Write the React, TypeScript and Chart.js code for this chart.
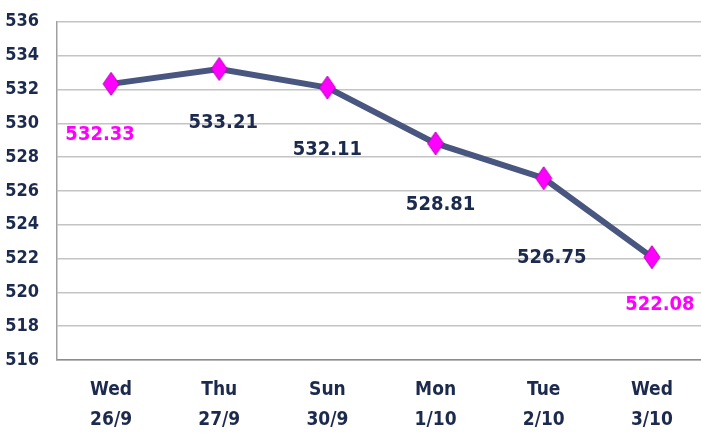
import React, { useEffect, useRef } from "react";
import { Chart, registerables } from "chart.js";

Chart.register(...registerables);

const days = ["Wed", "Thu", "Sun", "Mon", "Tue", "Wed"];
const dates = ["26/9", "27/9", "30/9", "1/10", "2/10", "3/10"];
const values = [532.33, 533.21, 532.11, 528.81, 526.75, 522.08];
const yMin = 516;
const yMax = 536;
const yStep = 2;

const labelOffsets = [
  [-11, 51],
  [4, 54],
  [0, 62],
  [5, 61],
  [8, 80],
  [8, 48],
];
const labelColors = ["#ff00ff", "#1c2a4e", "#1c2a4e", "#1c2a4e", "#1c2a4e", "#ff00ff"];

const FONT = "'Liberation Sans Narrow', 'DejaVu Sans Condensed', 'Liberation Sans', sans-serif";

function makeDiamond() {
  const c = document.createElement("canvas");
  const w = 18, h = 25;
  c.width = w;
  c.height = h;
  const ctx = c.getContext("2d")!;
  ctx.beginPath();
  ctx.moveTo(w / 2, 1);
  ctx.lineTo(w - 1, h / 2);
  ctx.lineTo(w / 2, h - 1);
  ctx.lineTo(1, h / 2);
  ctx.closePath();
  ctx.fillStyle = "#ff00ff";
  ctx.fill();
  ctx.strokeStyle = "#b000b0";
  ctx.lineWidth = 1;
  ctx.stroke();
  return c;
}

const valueLabels = {
  id: "valueLabels",
  afterDatasetsDraw(chart: any) {
    const ctx = chart.ctx;
    const meta = chart.getDatasetMeta(0);
    ctx.save();
    ctx.font = `bold 20px ${FONT}`;
    ctx.textAlign = "center";
    ctx.textBaseline = "middle";
    meta.data.forEach((pt: any, i: number) => {
      const [dx, dy] = labelOffsets[i];
      ctx.fillStyle = labelColors[i];
      ctx.fillText(values[i].toFixed(2), pt.x + dx, pt.y + dy);
    });
    ctx.restore();
  },
};

export default function App() {
  const ref = useRef<HTMLCanvasElement>(null);
  useEffect(() => {
    if (!ref.current) return;
    const diamond = makeDiamond();
    const chart = new Chart(ref.current, {
      type: "line",
      data: {
        labels: days.map((d, i) => [d, dates[i]]),
        datasets: [
          {
            data: values,
            borderColor: "#485680",
            borderWidth: 6,
            pointStyle: diamond as any,
            pointRadius: 10,
            tension: 0,
          },
        ],
      },
      options: {
        animation: false,
        responsive: false,
        maintainAspectRatio: false,
        layout: { padding: { top: 14, left: 0, right: 0, bottom: 0 } },
        plugins: {
          legend: { display: false },
          tooltip: { enabled: false },
        },
        scales: {
          x: {
            offset: true,
            grid: { display: false, drawTicks: false, offset: true },
            border: { display: true, color: "#8c8c8c", width: 1.5 },
            ticks: {
              color: "#1c2a4e",
              font: { family: FONT, size: 19, weight: "bold", lineHeight: 1.53 },
              padding: 16,
              maxRotation: 0,
              autoSkip: false,
            },
            afterFit(scale: any) {
              scale.height = 74;
            },
          },
          y: {
            min: yMin,
            max: yMax,
            grid: { color: "#c4c4c4", lineWidth: 1.5, drawTicks: false },
            border: { display: true, color: "#a0a0a0", width: 1.5 },
            ticks: {
              stepSize: yStep,
              color: "#1c2a4e",
              font: { family: FONT, size: 18, weight: "bold" },
              padding: 18,
            },
            afterFit(scale: any) {
              scale.width = 57;
            },
          },
        },
      },
      plugins: [valueLabels],
    });
    return () => chart.destroy();
  }, []);
  return (
    <div style={{ position: "fixed", left: 0, top: 0, width: 701, height: 434, overflow: "hidden", background: "#fff" }}>
      <canvas ref={ref} width={722} height={441} style={{ display: "block", position: "absolute", left: 0, top: -7 }} />
    </div>
  );
}
